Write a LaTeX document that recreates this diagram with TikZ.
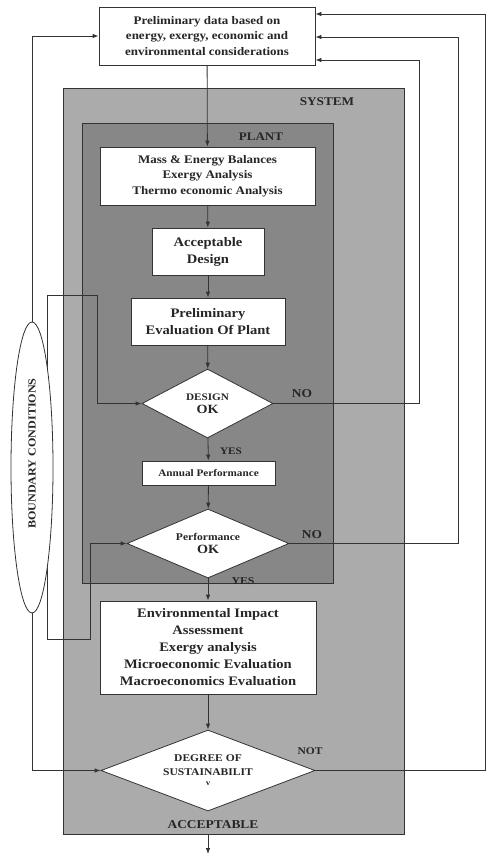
\documentclass[tikz,border=0pt]{standalone}
\usepackage{fontspec}
\setmainfont[FakeStretch=1.12]{Liberation Serif}
\usetikzlibrary{shapes.geometric,arrows.meta}

\begin{document}
\begin{tikzpicture}[x=1pt, y=-1pt, >={Latex[length=6pt,width=4.5pt]},
        line/.style = {draw=black!80, line width=0.8pt},
        area/.style = {draw=black!80, line width=0.8pt},
        box/.style = {draw=black!80, fill=white, line width=0.8pt, align=center, inner sep=0pt, text=black!85},
        dec/.style = {draw=black!80, fill=white, line width=0.8pt, diamond, align=center, inner sep=0pt, text=black!85, font=\bfseries},
        lab/.style = {text=black!85, inner sep=0pt, font=\bfseries\fontsize{12}{13}\selectfont}]

        \useasboundingbox (0,0) rectangle (486,854);

        % shaded regions
        \node[area, fill=black!33, minimum width=341, minimum height=746] (system) at (233.5,461) {};
        \node[area, fill=black!47, minimum width=251, minimum height=460] (plant) at (207.5,353) {};
        \node[lab, font=\bfseries\fontsize{11.8}{12}\selectfont] (syslab) at (327,102) {SYSTEM};
        \node[lab, font=\bfseries\fontsize{11.6}{12}\selectfont] (plantlab) at (261,137) {PLANT};

        % flow boxes
        \node[box, minimum width=216, minimum height=58, font=\bfseries\fontsize{11.6}{15.5}\selectfont] (top) at (207,36)
            {Preliminary data based on\\energy, exergy, economic and\\environmental considerations};
        \node[box, minimum width=215, minimum height=58, font=\bfseries\fontsize{11.6}{15.5}\selectfont] (mass) at (207.5,176)
            {Mass \& Energy Balances\\Exergy Analysis\\Thermo economic Analysis};
        \node[box, minimum width=112, minimum height=47, font=\bfseries\fontsize{13}{17}\selectfont] (accept) at (208,251.5)
            {Acceptable\\Design};
        \node[box, minimum width=154, minimum height=47, font=\bfseries\fontsize{13}{17}\selectfont] (prelim) at (208,321.5)
            {Preliminary\\Evaluation Of Plant};
        \node[dec, aspect=1.9, minimum width=131, minimum height=69] (design) at (207.5,403.5)
            {{\fontsize{10}{10}\selectfont DESIGN}\\[1pt]{\fontsize{12.6}{14}\selectfont OK}};
        \node[box, minimum width=133, minimum height=24, font=\bfseries\fontsize{10}{11}\selectfont] (annual) at (208.5,473)
            {Annual Performance};
        \node[dec, aspect=2.35, minimum width=162, minimum height=69] (perf) at (208,543.5)
            {{\fontsize{10.3}{10}\selectfont Performance}\\[1pt]{\fontsize{12.6}{14}\selectfont OK}};
        \node[box, minimum width=216, minimum height=93, font=\bfseries\fontsize{13}{17}\selectfont] (env) at (208,647.5)
            {Environmental Impact\\Assessment\\Exergy analysis\\Microeconomic Evaluation\\Macroeconomics Evaluation};
        \node[dec, aspect=2.64, minimum width=214, minimum height=81, font=\bfseries\fontsize{10.3}{14}\selectfont] (degree) at (208,770.5)
            {DEGREE OF\\SUSTAINABILIT\\[-4pt]{\fontsize{8}{8}\selectfont v}};

        % branch labels
        \node[lab] (no1) at (302,394) {NO};
        \node[lab, font=\bfseries\fontsize{10}{11}\selectfont] (yes1) at (231,451) {YES};
        \node[lab] (no2) at (312,535) {NO};
        \node[lab, font=\bfseries\fontsize{10.5}{11}\selectfont] (yes2) at (243,581) {YES};
        \node[lab, font=\bfseries\fontsize{10.3}{11}\selectfont] (not) at (310,751) {NOT};
        \node[lab, font=\bfseries\fontsize{12}{12}\selectfont] (ok) at (213,825) {ACCEPTABLE};

        % main flow
        \draw[line, ->] (top) -- (mass);
        \draw[line, ->] (mass) -- (accept);
        \draw[line, ->] (accept) -- (prelim);
        \draw[line, ->] (prelim) -- (design);
        \draw[line, ->] (design) -- (annual);
        \draw[line, ->] (annual) -- (perf);
        \draw[line, ->] (perf) -- (env);
        \draw[line, ->] (env) -- (degree);
        \coordinate (exit) at (208,854);
        \draw[line, ->] (degree |- system.south) -- (exit);

        % feedback loops on the right
        \coordinate (r1) at (419,60);
        \coordinate (r2) at (458,37);
        \coordinate (r3) at (485.5,14);
        \draw[line, ->] (design.east) -| (r1) -- (r1 -| top.east);
        \draw[line, ->] (perf.east) -| (r2) -- (r2 -| top.east);
        \draw[line, ->] (degree.east) -| (r3) -- (r3 -| top.east);

        % boundary conditions
        \coordinate (lp) at (47,467);
        \coordinate (k1) at (97,295);
        \coordinate (k2) at (90,639);
        \draw[line, ->] (lp) |- (k1) |- (design.west);
        \draw[line, ->] (lp) |- (k2) |- (perf.west);
        \node[box, ellipse, minimum width=42, minimum height=291] (bc) at (32,467.5)
            {\rotatebox{90}{\hspace{28pt}\bfseries\fontsize{10.8}{12}\selectfont BOUNDARY CONDITIONS}};
        \draw[line, ->] (bc.north) |- (top.west);
        \draw[line, ->] (bc.south) |- (degree.west);

    \end{tikzpicture}
\end{document}
